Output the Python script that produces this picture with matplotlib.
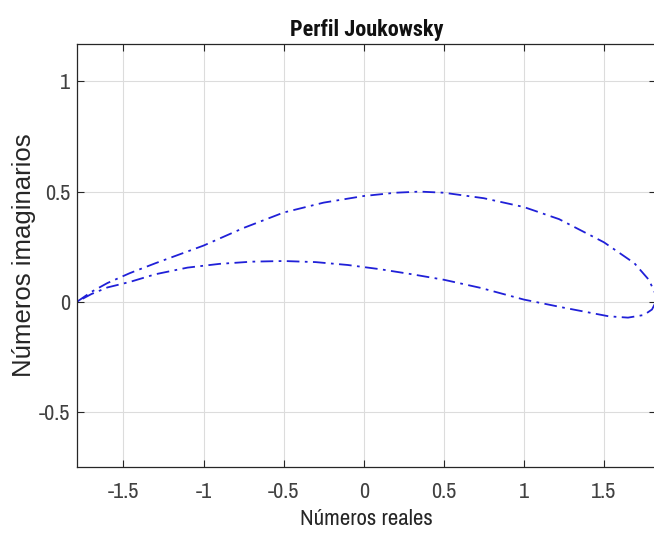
import numpy as np
import matplotlib
matplotlib.use('Agg')
import matplotlib.pyplot as plt

plt.rcParams['font.family'] = ['Archivo Narrow', 'Liberation Sans', 'DejaVu Sans']

# perfil: extrados (borde de ataque -> borde de salida)
upper_x = [-1.79, -1.70, -1.60, -1.46, -1.30, -1.15, -1.00, -0.75, -0.50, -0.25,
           0.00, 0.20, 0.35, 0.50, 0.75, 1.00, 1.22, 1.50, 1.69, 1.78, 1.835]
upper_y = [0.0, 0.045, 0.085, 0.13, 0.175, 0.215, 0.255, 0.335, 0.405, 0.45,
           0.48, 0.495, 0.50, 0.495, 0.47, 0.43, 0.375, 0.27, 0.175, 0.10, 0.015]
# intrados (borde de salida -> borde de ataque)
lower_x = [1.80, 1.75, 1.65, 1.53, 1.25, 1.00, 0.73, 0.50, 0.30, 0.10,
           -0.10, -0.30, -0.50, -0.70, -0.90, -1.10, -1.30, -1.46, -1.60, -1.70, -1.79]
lower_y = [-0.035, -0.06, -0.072, -0.066, -0.027, 0.01, 0.063, 0.10, 0.125, 0.148,
           0.167, 0.18, 0.185, 0.182, 0.172, 0.155, 0.125, 0.09, 0.065, 0.035, 0.0]

xticks = [-1.5, -1, -0.5, 0, 0.5, 1, 1.5]
xtick_labels = ['-1.5', '-1', '-0.5', '0', '0.5', '1', '1.5']
yticks = [-0.5, 0, 0.5, 1]
ytick_labels = ['-0.5', '0', '0.5', '1']

x = np.array(upper_x + lower_x)
y = np.array(upper_y + lower_y)

fig = plt.figure(figsize=(6.54, 5.46), dpi=100)
ax = fig.add_axes([77/654, 1 - 467/546, 579/654, 423/546])

ax.plot(x, y, color='#2020d8', lw=1.3, linestyle=(0, (7, 3, 1.5, 3)))

ax.set_xlim(-1.79, 1.825)
ax.set_ylim(-0.75, 1.17)
ax.set_xticks(xticks)
ax.set_xticklabels(xtick_labels)
ax.set_yticks(yticks)
ax.set_yticklabels(ytick_labels)

ax.grid(True, color='#dcdcdc', lw=0.8)
ax.set_axisbelow(True)
ax.tick_params(direction='in', length=5, width=0.8, colors='#262626',
               labelcolor='#404040', labelsize=16, top=True, right=True)
ax.tick_params(axis='x', pad=11)
ax.tick_params(axis='y', pad=5)
for s in ax.spines.values():
    s.set_color('#262626')
    s.set_linewidth(0.9)

ax.set_title('Perfil Joukowsky', fontsize=16, fontweight='bold', color='#111111', pad=6,
             family=['Roboto Condensed', 'Fira Sans Condensed', 'Barlow Condensed',
                     'Liberation Sans', 'DejaVu Sans'])
ax.set_xlabel('Números reales', fontsize=16.5, color='#262626', labelpad=5)
ax.set_ylabel('Números imaginarios', fontsize=18.5, color='#262626', labelpad=2,
              family=['Liberation Sans', 'DejaVu Sans'])

fig.savefig('out.png', dpi=100)
